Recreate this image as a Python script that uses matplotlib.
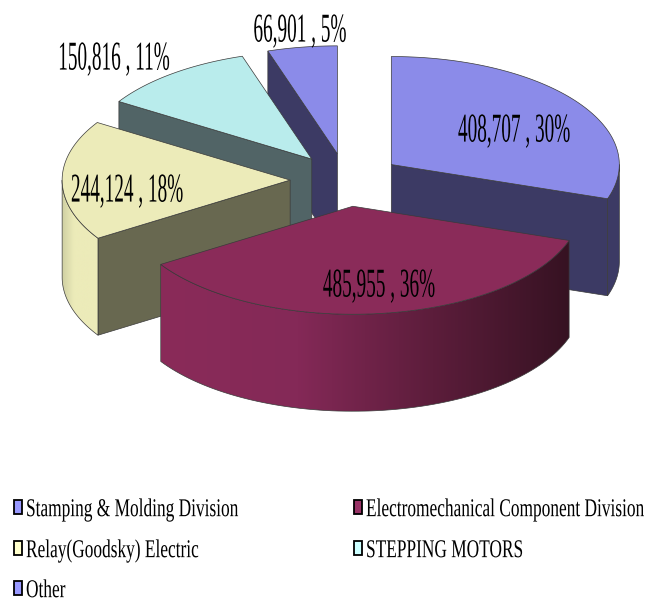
import numpy as np
import matplotlib
matplotlib.use('Agg')
import matplotlib.pyplot as plt
from matplotlib.colors import LinearSegmentedColormap
from matplotlib.patches import Polygon, Rectangle
from matplotlib.patheffects import AbstractPathEffect
from matplotlib.transforms import Affine2D

categories = ['Stamping & Molding Division', 'Electromechanical Component Division',
              'Relay(Goodsky) Electric', 'STEPPING MOTORS', 'Other']
values = [408707, 485955, 244124, 150816, 66901]

top_colors = ['#8b8be9', '#8a2b59', '#ecebb9', '#b9ecec', '#8b8be9']
side_colors = ['#3c3a64', '#8a2b59', '#686850', '#516466', '#3c3a64']
legend_colors = ['#9999ff', '#993366', '#ffffcc', '#ccffff', '#9999ff']

# pie geometry, in pixels of the picture
cx, cy = 346, 180
rx, ry = 228, 108
depth = 97
explode = 0.245
edge = '#3a3a3a'


class Stretch(AbstractPathEffect):
    # the reference text is tall and narrow, matplotlib fonts can't do that
    def __init__(self, sx, sy, x0, y0):
        super().__init__()
        self.scale = Affine2D().translate(-x0, -y0).scale(sx, sy).translate(x0, y0)

    def draw_path(self, renderer, gc, tpath, affine, rgbFace=None):
        renderer.draw_path(gc, tpath, affine + self.scale, rgbFace)


def stretched(x, y, s, size, sx, sy, ha):
    ax.text(x, y, s, fontsize=size, family='Liberation Serif', ha=ha, va='center',
            color='black', zorder=50, path_effects=[Stretch(sx, sy, x, 602 - y)])


def arc(ox, oy, t0, t1):
    t = np.radians(np.linspace(t0, t1, 80))
    return np.column_stack([ox + rx * np.sin(t), oy - ry * np.cos(t)])


def wall(pts):
    low = pts[::-1] + [0, depth]
    return np.vstack([pts, low])


fig = plt.figure(figsize=(6.46, 6.02), dpi=100)
ax = fig.add_axes([0, 0, 1, 1])
ax.set_xlim(0, 646)
ax.set_ylim(602, 0)
ax.axis('off')

fractions = np.array(values) / sum(values)
ends = np.cumsum(fractions) * 360
starts = ends - fractions * 360

fade_maroon = LinearSegmentedColormap.from_list('m', ['#8a2b59', '#842957', '#5c1d3b', '#361222'], 256)
fade_yellow = LinearSegmentedColormap.from_list('y', ['#cfcfa2', '#ecebb9', '#ecebb9', '#ecebb9'], 256)
fades = {1: fade_maroon, 2: fade_yellow}

z = 1
for i in [4, 3, 2, 0, 1]:
    t0, t1 = starts[i], ends[i]
    mid = np.radians((t0 + t1) / 2)
    ox = cx + explode * rx * np.sin(mid)
    oy = cy - explode * ry * np.cos(mid)

    # flat cut side that faces the viewer
    for t, visible in [(t0, np.sin(np.radians(t0)) < -1e-6), (t1, np.sin(np.radians(t1)) > 1e-6)]:
        if visible:
            pts = np.vstack([[ox, oy], arc(ox, oy, t, t)[:1]])
            ax.add_patch(Polygon(wall(pts), fc=side_colors[i], ec=edge, lw=0.5, zorder=z))
            z += 1

    # rim, only the front half of the ellipse shows
    a0, a1 = max(t0, 90), min(t1, 270)
    if a1 > a0:
        poly = wall(arc(ox, oy, a0, a1))
        if i in fades:
            patch = Polygon(poly, fc='none', ec=edge, lw=0.5, zorder=z + 1)
            ax.add_patch(patch)
            im = ax.imshow(np.linspace(0, 1, 256).reshape(1, -1), cmap=fades[i],
                           extent=(poly[:, 0].min(), poly[:, 0].max(), poly[:, 1].max(), poly[:, 1].min()),
                           aspect='auto', zorder=z)
            im.set_clip_path(patch)
        else:
            ax.add_patch(Polygon(poly, fc=side_colors[i], ec=edge, lw=0.5, zorder=z))
        z += 2

    # top face
    top = np.vstack([[ox, oy], arc(ox, oy, t0, t1)])
    ax.add_patch(Polygon(top, fc=top_colors[i], ec=edge, lw=0.5, zorder=z))
    z += 1

ax.set_xlim(0, 646)
ax.set_ylim(602, 0)

# value labels
label_x = [514, 379, 127, 114, 300]
label_y = [132, 287, 192, 60, 32]
for v, f, x, y in zip(values, fractions, label_x, label_y):
    stretched(x, y, f'{v:,} , {f * 100:.0f}%', 20, 0.693, 1.475, 'center')

# legend
leg_x = [14, 354, 14, 354, 14]
leg_y = [507, 507, 548, 548, 588]
for name, col, x, y in zip(categories, legend_colors, leg_x, leg_y):
    ax.add_patch(Rectangle((x, y - 7), 8, 14, fc=col, ec='black', lw=1.3, zorder=40))
    stretched(x + 12, y + 3, name, 12, 1.04, 1.54, 'left')

fig.savefig('out.png', dpi=100)
